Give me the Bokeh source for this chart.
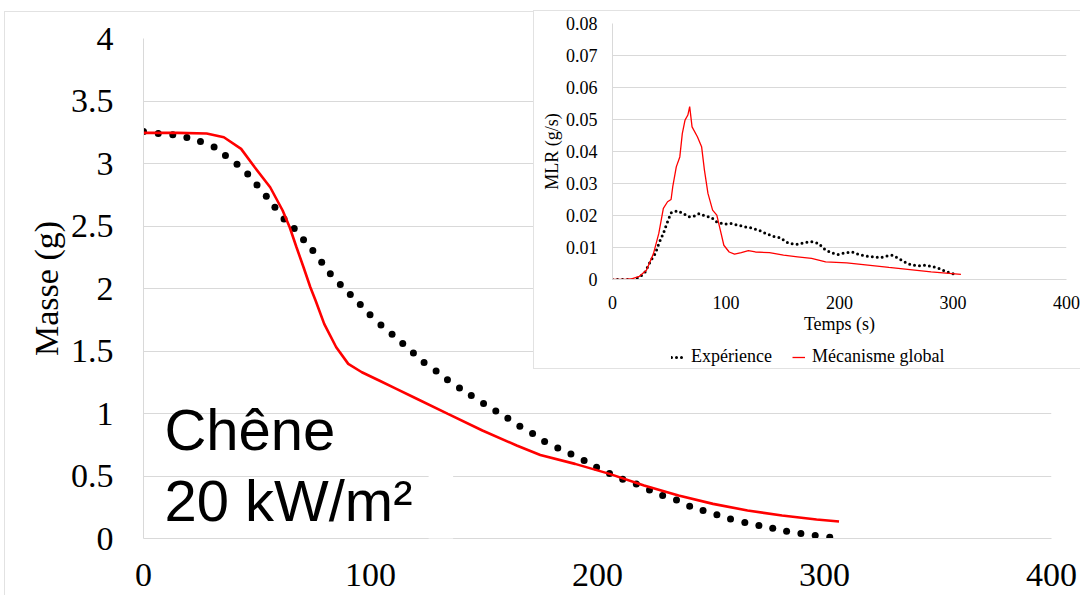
from bokeh.plotting import figure
from bokeh.models import Range1d, FixedTicker, Label, BoxAnnotation, Legend, LegendItem
from bokeh.embed import file_html
from bokeh.resources import INLINE

# ---------------- data: main chart (mass) ----------------
t_exp = [0, 6.5, 12.9, 19.1, 25.1, 31.1, 36.1, 41.2, 45.9, 50.0, 54.1, 57.9, 61.9, 66.4, 70.5,
         74.6, 78.5, 82.3, 86.7, 91.1, 95.5, 99.8, 104.6, 109.5, 114.2, 118.9, 123.6, 128.9,
         133.9, 139.2, 144.4, 149.8, 155.2, 160.5, 165.8, 171.4, 176.7, 182.5, 188.3, 194.1,
         199.6, 205.3, 211.1, 217.1, 222.9, 228.7, 234.8, 240.6, 246.5, 252.6, 258.6, 264.9,
         271.1, 277.2, 283.3, 289.6, 295.9, 302.3]
m_exp = [3.256, 3.24, 3.23, 3.208, 3.176, 3.133, 3.064, 2.995, 2.917, 2.829, 2.739, 2.65, 2.557,
         2.48, 2.39, 2.304, 2.21, 2.118, 2.032, 1.952, 1.872, 1.79, 1.709, 1.634, 1.56, 1.485,
         1.408, 1.341, 1.27, 1.205, 1.144, 1.08, 1.021, 0.963, 0.899, 0.84, 0.776, 0.725, 0.677,
         0.624, 0.571, 0.52, 0.475, 0.437, 0.389, 0.344, 0.309, 0.259, 0.224, 0.19, 0.157,
         0.128, 0.104, 0.083, 0.059, 0.04, 0.024, 0.011]

t_mod = [0, 15, 27.8, 35.4, 43, 49, 55.8, 61.3, 64.4, 67.4, 70.5, 73.5, 75.8, 79.6, 84.9, 90.2,
         96.2, 103.8, 111.4, 119, 134.1, 149.3, 164.4, 174.8, 190.1, 205.3, 220.5, 235.7,
         250.9, 266.1, 281.3, 296.5, 306.4]
m_mod = [3.245, 3.245, 3.24, 3.21, 3.117, 2.97, 2.81, 2.624, 2.49, 2.33, 2.17, 2.01, 1.904,
         1.717, 1.53, 1.397, 1.33, 1.264, 1.197, 1.13, 0.997, 0.864, 0.744, 0.668, 0.597,
         0.517, 0.424, 0.344, 0.277, 0.224, 0.184, 0.152, 0.136]

time_ticks = [0, 100, 200, 300, 400]
mass_ticks = [0, 0.5, 1, 1.5, 2, 2.5, 3, 3.5, 4]
mass_tick_labels = ["0", "0.5", "1", "1.5", "2", "2.5", "3", "3.5", "4"]

# ---------------- data: inset (MLR) ----------------
t_mlr_exp = [0, 10.9, 17.5, 23.1, 28.4, 33.9, 37.7, 39.8, 42.3, 44.8, 46.9, 49.0, 51.6, 57.1,
             62.4, 67.0, 71.7, 76.3, 81.9, 87.1, 91.8, 98.0, 104.1, 110.3, 116.5, 122.7, 128.9,
             135.0, 141.2, 147.4, 155.1, 162.9, 169.1, 175.3, 181.5, 186.1, 192.3, 198.5,
             204.7, 210.9, 217.1, 223.3, 229.5, 235.7, 240.9, 246.5, 252.1, 257.4, 263.5,
             269.7, 275.9, 282.1, 288.3, 294.5, 300.7]
mlr_exp = [0, 0, 0, 0.0006, 0.0021, 0.006, 0.0081, 0.0102, 0.0125, 0.0144, 0.0165, 0.0185,
           0.0208, 0.0215, 0.0206, 0.0196, 0.0198, 0.0206, 0.0198, 0.0194, 0.018, 0.0173,
           0.0175, 0.017, 0.0165, 0.0161, 0.0154, 0.0144, 0.0135, 0.0131, 0.0113, 0.011,
           0.0115, 0.0118, 0.0113, 0.0097, 0.0084, 0.0078, 0.0083, 0.0086, 0.0078, 0.0073,
           0.0071, 0.0068, 0.0073, 0.0076, 0.0066, 0.0055, 0.0045, 0.0043, 0.0045, 0.004,
           0.0034, 0.0024, 0.0017]

t_mlr_mod = [0, 11.3, 17.5, 23.7, 29.9, 36.1, 40.8, 44.8, 48.5, 51.6, 53.1, 56.2, 59.3, 61.5,
             63.9, 66.4, 68.0, 70.1, 74.8, 78.5, 81.0, 84.1, 88.2, 91.9, 95.0, 98.1, 102.8,
             107.5, 113.5, 119.7, 125.9, 138.3, 150.7, 163.0, 175.4, 187.8, 206.4, 225.0,
             243.5, 262.1, 280.7, 307.0]
mlr_mod = [0, 0, 0.0003, 0.001, 0.0029, 0.0081, 0.0144, 0.0222, 0.0243, 0.025, 0.029, 0.0352,
           0.0383, 0.0456, 0.0498, 0.0514, 0.054, 0.0477, 0.0446, 0.0415, 0.0342, 0.0269,
           0.0217, 0.0201, 0.0154, 0.0107, 0.0086, 0.0079, 0.0084, 0.009, 0.0086, 0.0084,
           0.0076, 0.0071, 0.0066, 0.0055, 0.0052, 0.0045, 0.0038, 0.0031, 0.0024, 0.0016]

mlr_ticks = [0, 0.01, 0.02, 0.03, 0.04, 0.05, 0.06, 0.07, 0.08]
mlr_tick_labels = ["0", "0.01", "0.02", "0.03", "0.04", "0.05", "0.06", "0.07", "0.08"]

labels_main = ["Chêne", "20 kW/m²"]
legend_labels = ["Expérience", "Mécanisme global"]

SERIF = "Liberation Serif"
SANS = "Liberation Sans"
GRID = "#d9d9d9"
FRAME = "#e2e2e2"
RED = "#ff0000"


def style_axes(p, font_size, x_standoff, y_standoff):
    for ax in (p.xaxis[0], p.yaxis[0]):
        ax.major_tick_out = 0
        ax.major_tick_in = 0
        ax.minor_tick_out = 0
        ax.minor_tick_in = 0
        ax.axis_line_color = GRID
        ax.major_label_text_font = SERIF
        ax.major_label_text_font_size = font_size
        ax.major_label_text_color = "black"
        ax.axis_label_text_font = SERIF
        ax.axis_label_text_font_style = "normal"
        ax.axis_label_text_color = "black"
    p.xaxis[0].major_label_standoff = x_standoff
    p.yaxis[0].major_label_standoff = y_standoff
    p.xgrid.visible = False
    p.ygrid.grid_line_color = GRID
    p.outline_line_color = None


# ---------------- main figure ----------------
main = figure(width=1076, height=584, x_range=Range1d(0, 400), y_range=Range1d(0, 4),
              output_backend="svg", toolbar_location=None,
              min_border_left=138, min_border_right=30, min_border_top=26, min_border_bottom=58,
              margin=(11, 0, 0, 4),
              styles={"border-top": "1px solid " + FRAME, "border-left": "1px solid " + FRAME})
style_axes(main, "34px", 25, 30)
main.xaxis[0].ticker = FixedTicker(ticks=time_ticks)
main.yaxis[0].ticker = FixedTicker(ticks=mass_ticks)
main.yaxis[0].major_label_overrides = dict(zip(mass_ticks, mass_tick_labels))
main.yaxis[0].axis_label = "Masse (g)"
main.yaxis[0].axis_label_text_font_size = "34px"
main.yaxis[0].axis_label_standoff = 3

main.scatter(t_exp, m_exp, size=7, color="black", line_color=None)
main.line(t_mod, m_mod, line_color=RED, line_width=2.6)

main.add_layout(BoxAnnotation(left=125.6, right=136.4, bottom=-0.2, top=0.7,
                              fill_color="white", fill_alpha=1.0, line_alpha=0))
main.add_layout(Label(x=9.2, y=0.874, text=labels_main[0], text_font=SANS,
                      text_font_size="58px", text_color="black", text_baseline="alphabetic"))
main.add_layout(Label(x=9.2, y=0.304, text=labels_main[1], text_font=SANS,
                      text_font_size="58px", text_color="black", text_baseline="alphabetic"))

# ---------------- inset figure (chart part) ----------------
inset = figure(width=547, height=330, x_range=Range1d(0, 400), y_range=Range1d(0, 0.08),
               output_backend="svg", toolbar_location=None,
               min_border_left=78, min_border_right=15, min_border_top=12, min_border_bottom=62,
               margin=(-585, 0, 0, 533),
               styles={"border-top": "1px solid " + FRAME, "border-left": "1px solid " + FRAME,
                       "background": "white"})
style_axes(inset, "18px", 16, 15)
inset.xaxis[0].ticker = FixedTicker(ticks=time_ticks)
inset.yaxis[0].ticker = FixedTicker(ticks=mlr_ticks)
inset.yaxis[0].major_label_overrides = dict(zip(mlr_ticks, mlr_tick_labels))
inset.xaxis[0].axis_label = "Temps (s)"
inset.yaxis[0].axis_label = "MLR (g/s)"
for ax in (inset.xaxis[0], inset.yaxis[0]):
    ax.axis_label_text_font_size = "18px"
inset.xaxis[0].axis_label_standoff = 2
inset.yaxis[0].axis_label_standoff = 1

exp_style = dict(line_color="black", line_width=3, line_dash="0 5", line_cap="round")
mod_style = dict(line_color=RED, line_width=1.3)
inset.line(t_mlr_exp, mlr_exp, **exp_style)
inset.line(t_mlr_mod, mlr_mod, **mod_style)

# ---------------- inset legend strip (bottom of the inset box) ----------------
# The same series are bound to this strip's legend; its y range lies above the data,
# so only the legend keys of the two series are drawn here.
leg = figure(width=547, height=29, x_range=Range1d(0, 400), y_range=Range1d(1, 2),
             output_backend="svg", toolbar_location=None,
             x_axis_location=None, y_axis_location=None,
             min_border_left=0, min_border_right=0, min_border_top=0, min_border_bottom=0,
             margin=(0, 0, 0, 533),
             styles={"border-left": "1px solid " + FRAME, "border-bottom": "1px solid " + FRAME,
                     "background": "white"})
leg.grid.visible = False
leg.outline_line_color = None
g_exp = leg.line(t_mlr_exp, mlr_exp, **exp_style)
g_mod = leg.line(t_mlr_mod, mlr_mod, **mod_style)
legend = Legend(items=[LegendItem(label=legend_labels[0], renderers=[g_exp]),
                       LegendItem(label=legend_labels[1], renderers=[g_mod])],
                orientation="horizontal", location=(137, 2),
                glyph_width=13, glyph_height=12, label_standoff=7, spacing=20,
                padding=0, margin=0, border_line_color=None, background_fill_alpha=0,
                label_text_font=SERIF, label_text_font_size="18px", label_text_color="black")
leg.add_layout(legend)

p = [main, inset, leg]
open("out.html", "w").write(file_html(p, INLINE))
